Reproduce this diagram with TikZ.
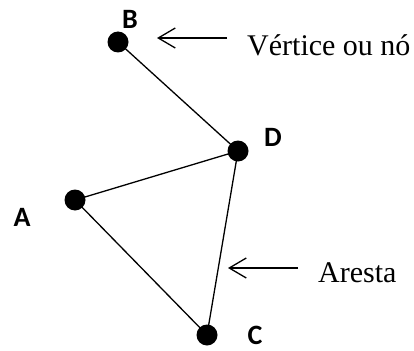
\documentclass[tikz,border=0pt]{standalone}
\usepackage{fontspec}
\setmainfont{Liberation Serif}
\newfontfamily\lblfont{Carlito}
\usetikzlibrary{arrows.meta}
\begin{document}
\begin{tikzpicture}[x=1pt,y=-1pt,
  vert/.style={circle,fill=black,inner sep=0pt,minimum size=21pt},
  edge/.style={line width=1.3pt},
  lbl/.style={font=\lblfont\bfseries\fontsize{28}{32}\selectfont,inner sep=0pt},
  note/.style={font=\fontsize{30}{34}\selectfont,inner sep=0pt,anchor=base west},
  pointer/.style={line width=1.3pt,-{Straight Barb[length=17pt,width=20pt,line width=1.3pt]}}]
\useasboundingbox (0,0) rectangle (414,350);
\node[vert] (B) at (118,42) {};
\node[vert] (D) at (238,151) {};
\node[vert] (A) at (75,200) {};
\node[vert] (C) at (207,335) {};
\draw[edge] (B.center) -- (D.center);
\draw[edge] (D.center) -- (A.center);
\draw[edge] (A.center) -- (C.center);
\draw[edge] (C.center) -- (D.center);
\node[lbl] (lB) at (130,19.5) {B};
\node[lbl] (lD) at (273,137.5) {D};
\node[lbl] (lA) at (22,217) {A};
\node[lbl] (lC) at (255,335) {C};
\node[note] (t1) at (247,56) {Vértice ou nó};
\node[note] (t2) at (318,282) {Aresta};
\coordinate (p1s) at (227,38);
\coordinate (p1e) at (157,38);
\coordinate (p2s) at (298,268);
\coordinate (p2e) at (228,268);
\draw[pointer] (p1s) -- (p1e);
\draw[pointer] (p2s) -- (p2e);
\end{tikzpicture}
\end{document}
